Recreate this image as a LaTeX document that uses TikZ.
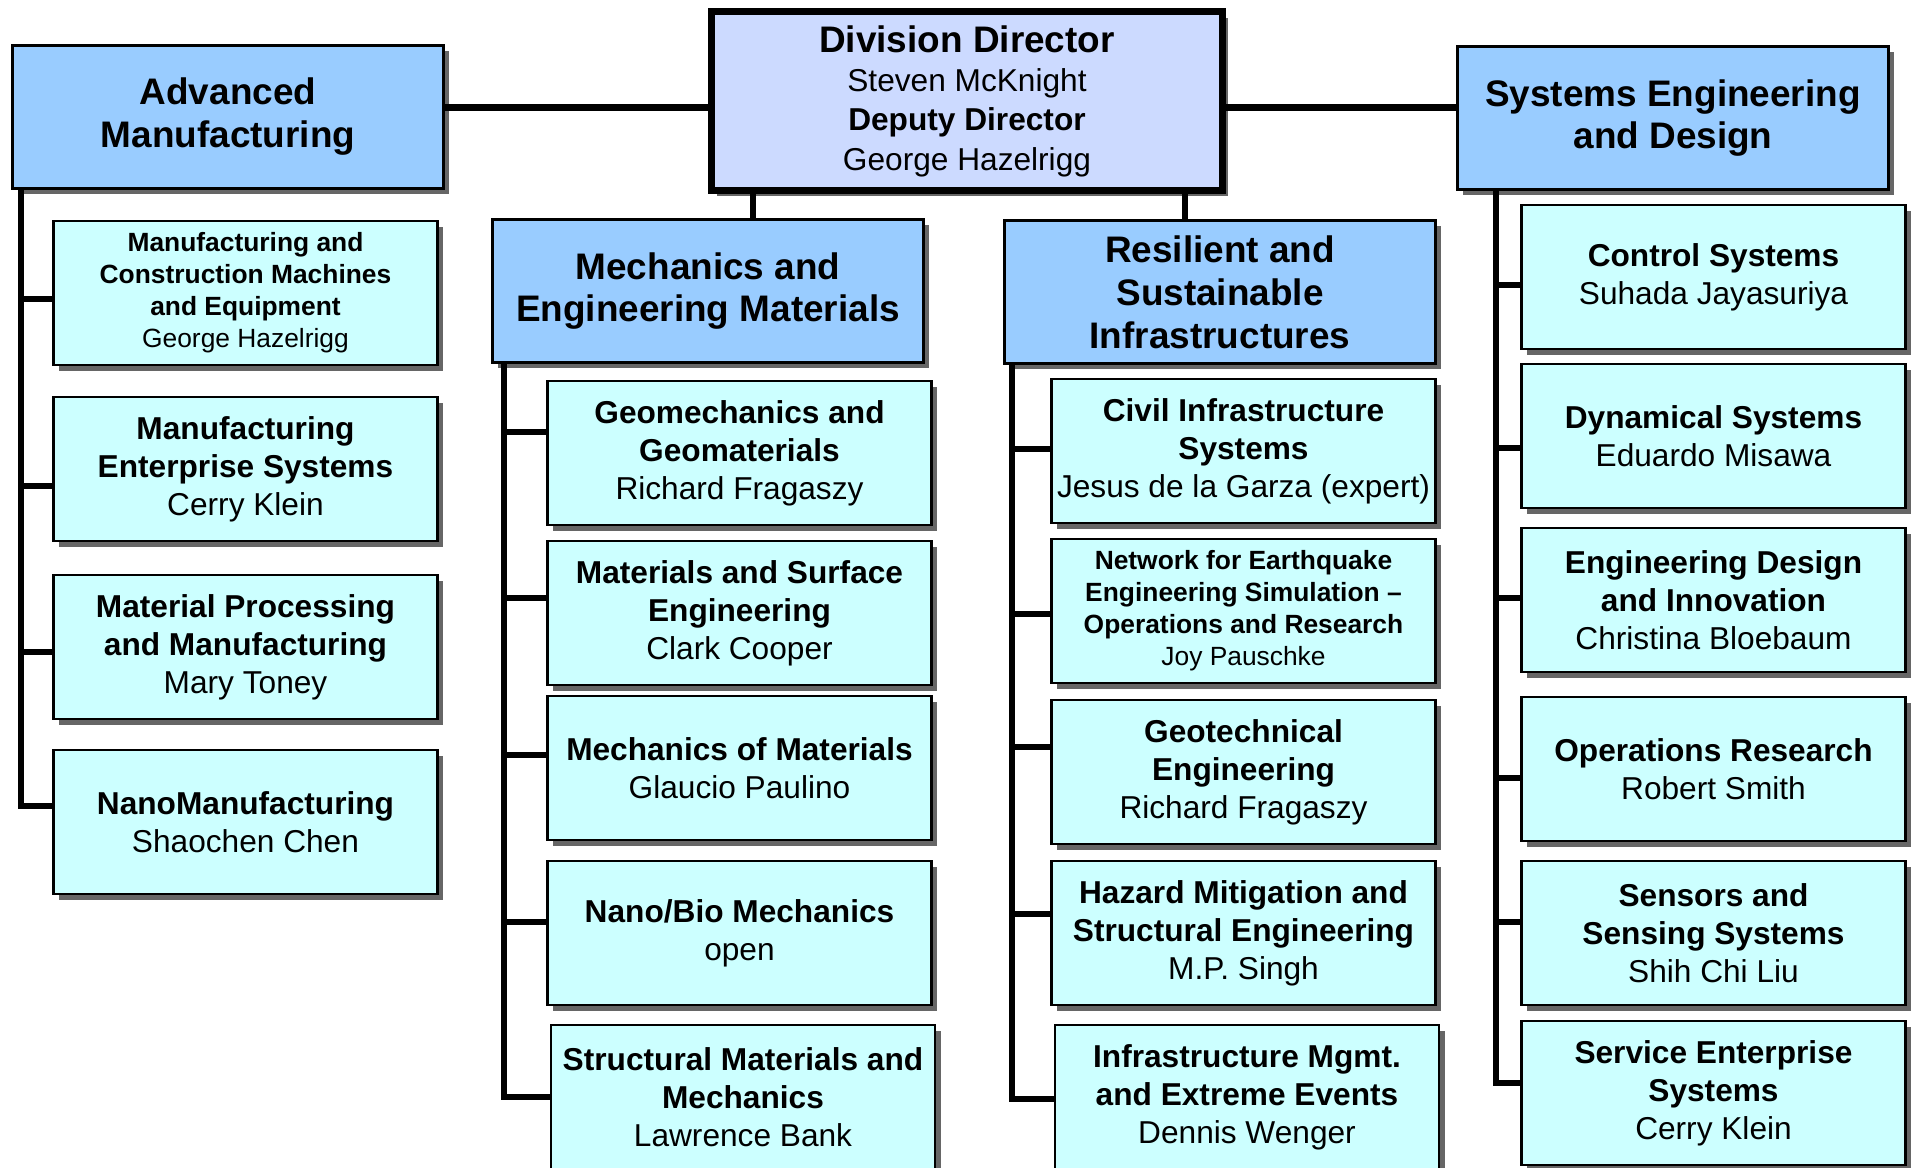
\documentclass[tikz,border=0pt]{standalone}
\usepackage{fontspec}
\setmainfont{Liberation Sans}
\usetikzlibrary{positioning,shadows}
\definecolor{headblue}{RGB}{153,204,255}
\definecolor{unitcyan}{RGB}{204,255,255}
\definecolor{dirblue}{RGB}{204,218,255}
\tikzset{box/.style = {rectangle,draw,line width=0.7pt,align=center,inner sep=1pt,
            drop shadow={shadow xshift=1.6pt,shadow yshift=-1.6pt,fill=black!60,opacity=1}},
         head/.style = {box,fill=headblue,minimum width=4.31cm,minimum height=1.43cm,
            font=\fontsize{10.5}{12.2}\selectfont\bfseries},
         unit/.style = {box,fill=unitcyan,minimum width=3.84cm,minimum height=1.44cm,
            font=\fontsize{9}{10.8}\selectfont},
         smallunit/.style = {unit,font=\fontsize{7.5}{9.1}\selectfont},
         link/.style = {line width=1.8pt}}

\begin{document}
\begin{tikzpicture}[x=0.01cm,y=-0.01cm]
            \useasboundingbox (0,0) rectangle (1915,1168);
            % top level
            \node[box,fill=dirblue,line width=2pt,minimum width=5.1cm,minimum height=1.78cm,
                  font=\fontsize{9}{11.2}\selectfont] (dir) at (967,101)
                  {{\fontsize{10.5}{12}\selectfont\bfseries Division Director}\\Steven McKnight\\\textbf{Deputy Director}\\George Hazelrigg};
            \node[head] (am) at (228,117)  {Advanced\\Manufacturing};
            \node[head] (se) at (1673,118) {Systems Engineering\\and Design};
            \node[head] (me) at (708,291)  {Mechanics and\\Engineering Materials};
            \node[head] (rs) at (1220,292) {Resilient and\\Sustainable\\Infrastructures};
            % advanced manufacturing
            \node[smallunit] (am1) at (245.5,293) {\textbf{Manufacturing and}\\\textbf{Construction Machines}\\\textbf{and Equipment}\\George Hazelrigg};
            \node[unit] (am2) at (245.5,469) {\textbf{Manufacturing}\\\textbf{Enterprise Systems}\\Cerry Klein};
            \node[unit] (am3) at (245.5,647) {\textbf{Material Processing}\\\textbf{and Manufacturing}\\Mary Toney};
            \node[unit] (am4) at (245.5,822) {\textbf{NanoManufacturing}\\Shaochen Chen};
            % mechanics
            \node[unit] (me1) at (739.5,453)  {\textbf{Geomechanics and}\\\textbf{Geomaterials}\\Richard Fragaszy};
            \node[unit] (me2) at (739.5,613)  {\textbf{Materials and Surface}\\\textbf{Engineering}\\Clark Cooper};
            \node[unit] (me3) at (739.5,768)  {\textbf{Mechanics of Materials}\\Glaucio Paulino};
            \node[unit] (me4) at (739.5,933)  {\textbf{Nano/Bio Mechanics}\\open};
            \node[unit] (me5) at (743,1097)   {\textbf{Structural Materials and}\\\textbf{Mechanics}\\Lawrence Bank};
            % resilient infrastructures
            \node[unit] (rs1) at (1243.5,451) {\textbf{Civil Infrastructure}\\\textbf{Systems}\\Jesus de la Garza (expert)};
            \node[smallunit] (rs2) at (1243.5,611) {\textbf{Network for Earthquake}\\\textbf{Engineering Simulation --}\\\textbf{Operations and Research}\\Joy Pauschke};
            \node[unit] (rs3) at (1243.5,772) {\textbf{Geotechnical}\\\textbf{Engineering}\\Richard Fragaszy};
            \node[unit] (rs4) at (1243.5,933) {\textbf{Hazard Mitigation and}\\\textbf{Structural Engineering}\\M.P. Singh};
            \node[unit] (rs5) at (1247,1097)  {\textbf{Infrastructure Mgmt.}\\\textbf{and Extreme Events}\\Dennis Wenger};
            % systems engineering
            \node[unit] (se1) at (1713.5,277) {\textbf{Control Systems}\\Suhada Jayasuriya};
            \node[unit] (se2) at (1713.5,436) {\textbf{Dynamical Systems}\\Eduardo Misawa};
            \node[unit] (se3) at (1713.5,600) {\textbf{Engineering Design}\\\textbf{and Innovation}\\Christina Bloebaum};
            \node[unit] (se4) at (1713.5,769) {\textbf{Operations Research}\\Robert Smith};
            \node[unit] (se5) at (1713.5,933) {\textbf{Sensors and}\\\textbf{Sensing Systems}\\Shih Chi Liu};
            \node[unit] (se6) at (1713.5,1093) {\textbf{Service Enterprise}\\\textbf{Systems}\\Cerry Klein};
            % connectors
            \coordinate (amL) at (21,0);
            \coordinate (meL) at (504,0);
            \coordinate (rsL) at (1012,0);
            \coordinate (seL) at (1496,0);
            \draw[link] ([yshift=-0.65mm]dir.west) -- ([yshift=-0.65mm]dir.west -| am.east);
            \draw[link] ([yshift=-0.65mm]dir.east) -- ([yshift=-0.65mm]dir.east -| se.west);
            \draw[link] ([xshift=0.45cm]me.north) -- ([xshift=0.45cm]me.north |- dir.south);
            \draw[link] ([xshift=-0.35cm]rs.north) -- ([xshift=-0.35cm]rs.north |- dir.south);
            \draw[link] (am.south -| amL) |- ([yshift=1.6mm]am4.west);
            \draw[link] (me.south -| meL) |- (me5.west);
            \draw[link] (rs.south -| rsL) |- ([yshift=-0.2mm]rs5.west);
            \draw[link] (se.south -| seL) |- ([yshift=1mm]se6.west);
            \foreach \b/\d/\s in {am1/-0.6/amL,am2/-1.7/amL,am3/-0.5/amL,
                                  me1/2.1/meL,me2/1.5/meL,me3/1.3/meL,me4/1.1/meL,
                                  rs1/0.2/rsL,rs2/-0.3/rsL,rs3/2.5/rsL,rs4/1.9/rsL,
                                  se1/-0.8/seL,se2/-1.2/seL,se3/0.2/seL,se4/-0.9/seL,se5/1.1/seL} {
                \path ([yshift=\d mm]\b.west) coordinate (tip);
                \draw[link] (tip) -- (tip -| \s);
            }
\end{tikzpicture}
\end{document}
